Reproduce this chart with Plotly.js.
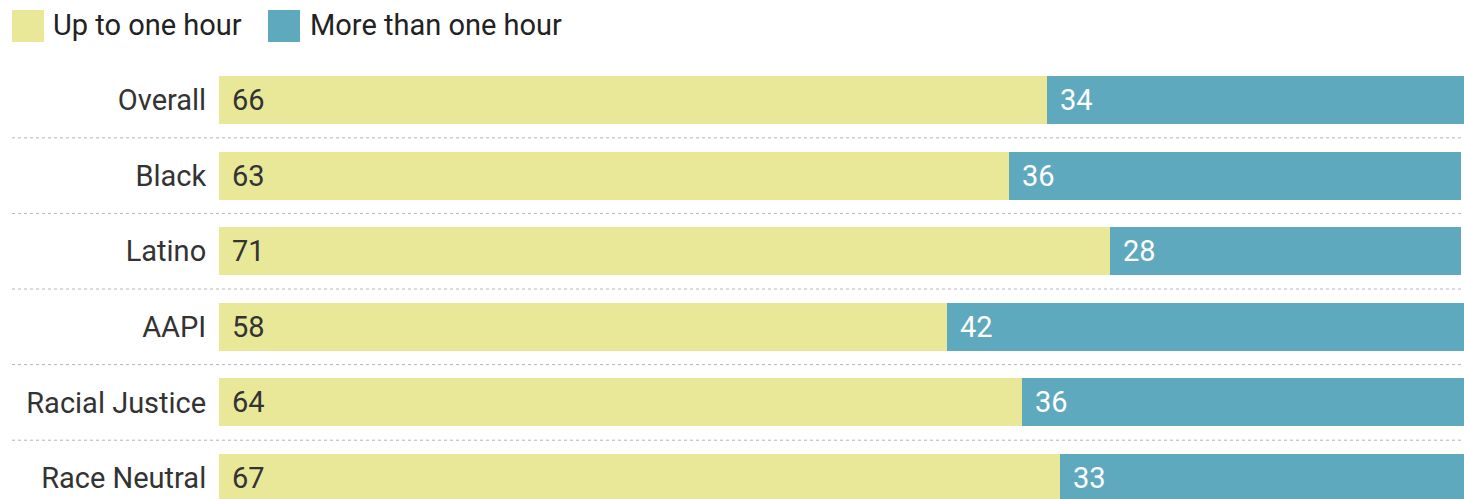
<!DOCTYPE html>
<html>
<head>
<meta charset="utf-8">
<script src="https://cdn.plot.ly/plotly-3.0.1.min.js"></script>
<style>html,body{margin:0;padding:0;background:#fff;}#chart{width:1464px;height:499px;}</style>
</head>
<body>
<div id="chart"></div>
<script>
const categories = ["Overall", "Black", "Latino", "AAPI", "Racial Justice", "Race Neutral"];
const seriesNames = ["Up to one hour", "More than one hour"];
const upToOneHour = [66, 63, 71, 58, 64, 67];
const moreThanOneHour = [34, 36, 28, 42, 36, 33];

const colors = ["#e9e899", "#5ea9bd"];
const textColors = ["#333333", "#ffffff"];
const FONT = "Roboto, 'Open Sans', sans-serif";
const FS = 29;

const traces = [
  {type: "bar", orientation: "h", name: seriesNames[0], y: categories, x: upToOneHour,
   marker: {color: colors[0], line: {width: 0}}, width: 0.635, hoverinfo: "skip"},
  {type: "bar", orientation: "h", name: seriesNames[1], y: categories, x: moreThanOneHour,
   marker: {color: colors[1], line: {width: 0}}, width: 0.635, hoverinfo: "skip"}
];

const annotations = [];
categories.forEach((c, i) => {
  annotations.push({x: 0, y: c, xref: "x", yref: "y", text: String(upToOneHour[i]),
    showarrow: false, xanchor: "left", yanchor: "middle", xshift: 11,
    font: {family: FONT, size: FS, color: textColors[0]}});
  annotations.push({x: upToOneHour[i], y: c, xref: "x", yref: "y", text: String(moreThanOneHour[i]),
    showarrow: false, xanchor: "left", yanchor: "middle", xshift: 11,
    font: {family: FONT, size: FS, color: textColors[1]}});
});

const W = 1245, H = 437, L = 219, T = 62;
const px = v => (v - L) / W;
const py = v => (T + H - v) / H;

const shapes = [];
for (let i = 0; i < categories.length - 1; i++) {
  shapes.push({type: "line", xref: "paper", yref: "y", x0: px(12), x1: 1, y0: i + 0.5, y1: i + 0.5,
    line: {color: "#b5b5b5", width: 1, dash: "dot"}, layer: "below"});
}
// legend
const legendItems = [{x0: 12, x1: 44, tx: 51}, {x0: 268, x1: 300, tx: 308}];
legendItems.forEach((it, k) => {
  shapes.push({type: "rect", xref: "paper", yref: "paper", x0: px(it.x0), x1: px(it.x1),
    y0: py(42), y1: py(10), fillcolor: colors[k], line: {width: 0}});
  annotations.push({xref: "paper", yref: "paper", x: px(it.tx), y: py(25), text: seriesNames[k],
    showarrow: false, xanchor: "left", yanchor: "middle",
    font: {family: FONT, size: FS, color: "#222222"}});
});

const layout = {
  width: 1464, height: 499,
  margin: {l: L, r: 0, t: T, b: 0, pad: 0},
  paper_bgcolor: "#ffffff", plot_bgcolor: "#ffffff",
  barmode: "stack", showlegend: false,
  font: {family: FONT, size: FS, color: "#333333"},
  xaxis: {range: [0, 99.24], visible: false, fixedrange: true},
  yaxis: {type: "category", categoryarray: categories, categoryorder: "array",
    range: [5.278, -0.503], showgrid: false, zeroline: false, showline: false,
    ticks: "outside", ticklen: 6, tickcolor: "rgba(0,0,0,0)",
    tickfont: {family: FONT, size: FS, color: "#333333"}, automargin: false, fixedrange: true},
  shapes: shapes,
  annotations: annotations
};

Plotly.newPlot("chart", traces, layout, {displayModeBar: false, staticPlot: true});
</script>
</body>
</html>
